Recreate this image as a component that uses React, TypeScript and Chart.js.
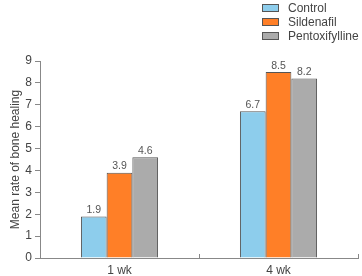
import React, { useEffect, useRef } from "react";
import { Chart, registerables } from "chart.js";

Chart.register(...registerables);

const categories = ["1 wk", "4 wk"];
const seriesNames = ["Control", "Sildenafil", "Pentoxifylline"];
const controlValues = [1.9, 6.7];
const sildenafilValues = [3.9, 8.5];
const pentoxifyllineValues = [4.6, 8.2];
const seriesColors = ["#8DCDEC", "#FF7F27", "#ABABAB"];
const yTitle = "Mean rate of bone healing";
const FONT = "Arial, 'Liberation Sans', sans-serif";

const valueLabels = {
  id: "valueLabels",
  afterDatasetsDraw(chart: any) {
    const ctx = chart.ctx;
    ctx.save();
    ctx.font = `10.5px ${FONT}`;
    ctx.fillStyle = "#555";
    ctx.textAlign = "center";
    ctx.textBaseline = "bottom";
    chart.data.datasets.forEach((ds: any, i: number) => {
      const meta = chart.getDatasetMeta(i);
      meta.data.forEach((bar: any, j: number) => {
        ctx.fillText(String(ds.data[j]), bar.x, bar.y - 1);
      });
    });
    ctx.restore();
  },
};

const xTicks = {
  id: "xTicks",
  afterDraw(chart: any) {
    const ctx = chart.ctx;
    const xs = chart.scales.x;
    const bottom = chart.chartArea.bottom;
    const w = xs.width / categories.length;
    ctx.save();
    ctx.strokeStyle = "#888";
    ctx.lineWidth = 1;
    for (let i = 0; i < categories.length; i++) {
      const px = Math.round(xs.getPixelForValue(i) + w / 2) + 0.5;
      ctx.beginPath();
      ctx.moveTo(px, bottom);
      ctx.lineTo(px, bottom - 4);
      ctx.stroke();
    }
    ctx.restore();
  },
};

export default function App() {
  const ref = useRef<HTMLCanvasElement>(null);
  useEffect(() => {
    const values = [controlValues, sildenafilValues, pentoxifyllineValues];
    const chart = new Chart(ref.current!, {
      type: "bar",
      data: {
        labels: categories,
        datasets: seriesNames.map((name, i) => ({
          label: name,
          data: values[i],
          backgroundColor: seriesColors[i],
          borderColor: "#555",
          borderWidth: 1,
          barPercentage: 1,
          categoryPercentage: 0.485,
        })),
      },
      options: {
        animation: false,
        responsive: false,
        maintainAspectRatio: false,
        layout: { padding: { left: 0, right: 4, top: 61, bottom: 0 } },
        plugins: { legend: { display: false }, tooltip: { enabled: false } },
        scales: {
          x: {
            grid: { display: false, drawTicks: false },
            border: { color: "#888", width: 1 },
            ticks: { color: "#444", font: { family: FONT, size: 12 }, padding: 5 },
            afterFit: (s: any) => { s.height = 18; },
          },
          y: {
            min: 0,
            max: 9,
            grid: { drawOnChartArea: false, tickLength: 5, color: "#888" },
            border: { color: "#888", width: 1 },
            ticks: { stepSize: 1, color: "#444", font: { family: FONT, size: 12 }, padding: 3 },
            title: {
              display: true,
              text: yTitle,
              color: "#444",
              font: { family: FONT, size: 12 },
              padding: { top: 8, bottom: 0 },
            },
            afterFit: (s: any) => { s.width = 40; },
          },
        },
      },
      plugins: [valueLabels, xTicks],
    });
    return () => chart.destroy();
  }, []);

  return (
    <div style={{ position: "fixed", left: 0, top: 0, width: 362, height: 276, background: "#fff" }}>
      <canvas ref={ref} width={362} height={276} style={{ position: "absolute", left: 0, top: 0 }} />
      <div style={{ position: "absolute", left: 262, top: 1, fontFamily: FONT, fontSize: 12, color: "#444" }}>
        {seriesNames.map((name, i) => (
          <div key={name} style={{ display: "flex", alignItems: "center", height: 14 }}>
            <span
              style={{
                display: "inline-block",
                width: 15,
                height: 6,
                background: seriesColors[i],
                border: "1px solid #555",
                marginRight: 9,
              }}
            />
            <span>{name}</span>
          </div>
        ))}
      </div>
    </div>
  );
}
